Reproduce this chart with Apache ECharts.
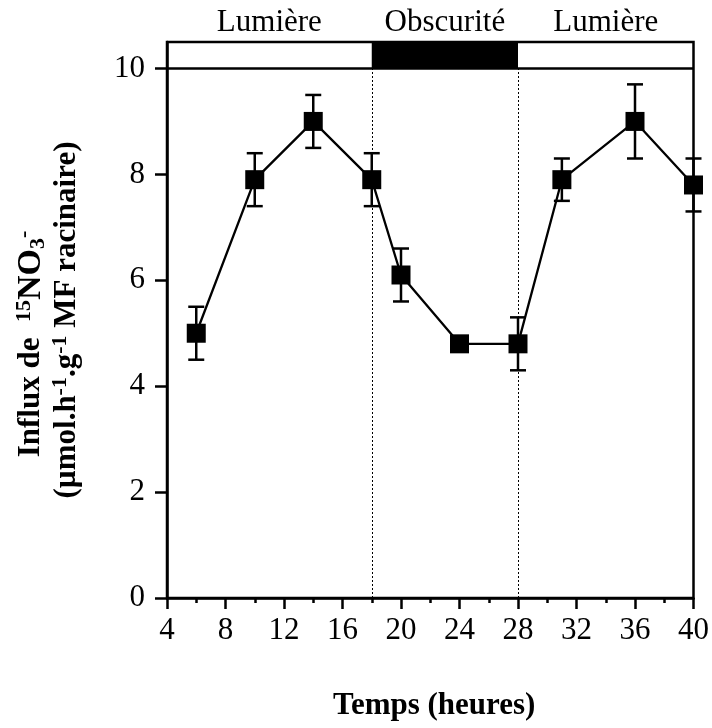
<!DOCTYPE html>
<html>
<head>
<meta charset="utf-8">
<script src="https://cdn.jsdelivr.net/npm/echarts@6/dist/echarts.min.js"></script>
<style>html,body{margin:0;padding:0;background:#fff;}#c{width:712px;height:728px;}</style>
</head>
<body>
<div id="c"></div>
<script>
// ---- data ----
const hours = [6, 10, 14, 18, 20, 24, 28, 31, 36, 40];
const influx = [5.0, 7.9, 9.0, 7.9, 6.1, 4.8, 4.8, 7.9, 9.0, 7.8];
const sem = [0.5, 0.5, 0.5, 0.5, 0.5, 0.1, 0.5, 0.4, 0.7, 0.5];
const yTicks = [0, 2, 4, 6, 8, 10];
const periodLabels = ['Lumière', 'Obscurité', 'Lumière'];
const periodStart = [4, 18, 28];
const periodEnd = [18, 28, 40];
const periodDark = [false, true, false];
const transitions = [18, 28];
const bandBottom = 10;
const bandTop = 10.5;

const FONT = '"Liberation Serif", "Times New Roman", serif';

const chart = echarts.init(document.getElementById('c'), null, {renderer: 'canvas'});

const errData = hours.map((h, i) => [h, influx[i] - sem[i], influx[i] + sem[i]]);

const areaData = periodLabels.map((lab, i) => [
  {
    name: lab,
    xAxis: periodStart[i], yAxis: bandBottom,
    itemStyle: {color: periodDark[i] ? '#000' : 'rgba(0,0,0,0)'}
  },
  {xAxis: periodEnd[i], yAxis: bandTop}
]);

const option = {
  animation: false,
  backgroundColor: '#fff',
  grid: {
    left: 167, right: 12, top: 42, bottom: 130,
    show: true, borderColor: '#000', borderWidth: 2.5, backgroundColor: 'transparent'
  },
  xAxis: {
    type: 'value', min: 4, max: 40, interval: 4,
    axisLine: {show: true, onZero: false, lineStyle: {color: '#000', width: 2.5}},
    axisTick: {show: true, inside: false, length: 11, lineStyle: {color: '#000', width: 2.5}},
    minorTick: {show: true, splitNumber: 2, length: 5, lineStyle: {color: '#000', width: 2.5}},
    splitLine: {show: false},
    axisLabel: {color: '#000', fontFamily: FONT, fontSize: 31, margin: 17},
    name: 'Temps (heures)',
    nameLocation: 'middle',
    nameGap: 92,
    nameTextStyle: {color: '#000', fontFamily: FONT, fontSize: 31, fontWeight: 'bold', padding: [0, 0, 0, 8]}
  },
  yAxis: {
    type: 'value', min: 0, max: bandTop, interval: 2,
    axisLine: {show: true, onZero: false, lineStyle: {color: '#000', width: 2.5}},
    axisTick: {show: true, inside: false, length: 12, customValues: yTicks, lineStyle: {color: '#000', width: 2.5}},
    splitLine: {show: false},
    axisLabel: {color: '#000', fontFamily: FONT, fontSize: 31, margin: 22, customValues: yTicks},
    name: 'Influx de  {sup|15}{big|NO}{sub|3}{sup|-}{gap| }\n(µmol.h{sup|-1}.g{sup|-1} MF racinaire)',
    nameLocation: 'middle',
    nameRotate: 90,
    nameGap: 82,
    nameTextStyle: {
      color: '#000', fontFamily: FONT, fontSize: 31, fontWeight: 'bold', lineHeight: 36,
      rich: {
        sup: {fontFamily: FONT, fontSize: 22, fontWeight: 'bold', color: '#000', verticalAlign: 'top', lineHeight: 22},
        sub: {fontFamily: FONT, fontSize: 22, fontWeight: 'bold', color: '#000', verticalAlign: 'bottom', lineHeight: 22},
        big: {fontFamily: FONT, fontSize: 34, fontWeight: 'bold', color: '#000', lineHeight: 36},
        gap: {fontFamily: FONT, fontSize: 10, width: 48, lineHeight: 20}
      }
    }
  },
  series: [
    {
      type: 'custom',
      clip: false,
      z: 3,
      data: errData,
      encode: {x: 0, y: [1, 2]},
      renderItem: function (params, api) {
        const x = api.value(0);
        const lo = api.coord([x, api.value(1)]);
        const hi = api.coord([x, api.value(2)]);
        const hw = 8;
        const st = {stroke: '#000', lineWidth: 2.5};
        return {
          type: 'group',
          children: [
            {type: 'line', shape: {x1: lo[0], y1: lo[1], x2: hi[0], y2: hi[1]}, style: st},
            {type: 'line', shape: {x1: hi[0] - hw, y1: hi[1], x2: hi[0] + hw, y2: hi[1]}, style: st},
            {type: 'line', shape: {x1: lo[0] - hw, y1: lo[1], x2: lo[0] + hw, y2: lo[1]}, style: st}
          ]
        };
      }
    },
    {
      type: 'line',
      z: 4,
      clip: false,
      data: hours.map((h, i) => [h, influx[i]]),
      symbol: 'rect',
      symbolSize: 19,
      lineStyle: {color: '#000', width: 2.3},
      itemStyle: {color: '#000'},
      markArea: {
        silent: true,
        label: {
          show: true, position: 'top', distance: 4,
          color: '#000', fontFamily: FONT, fontSize: 31
        },
        data: areaData
      },
      markLine: {
        silent: true,
        symbol: 'none',
        label: {show: false},
        data: [
          [{coord: [4, bandBottom], lineStyle: {type: 'solid', width: 2.5, color: '#000'}}, {coord: [40, bandBottom]}],
          ...transitions.map(t => [
            {coord: [t, 0], lineStyle: {type: [2, 2], width: 1, color: '#000'}},
            {coord: [t, bandBottom]}
          ])
        ]
      }
    }
  ]
};
chart.setOption(option);
</script>
</body>
</html>
